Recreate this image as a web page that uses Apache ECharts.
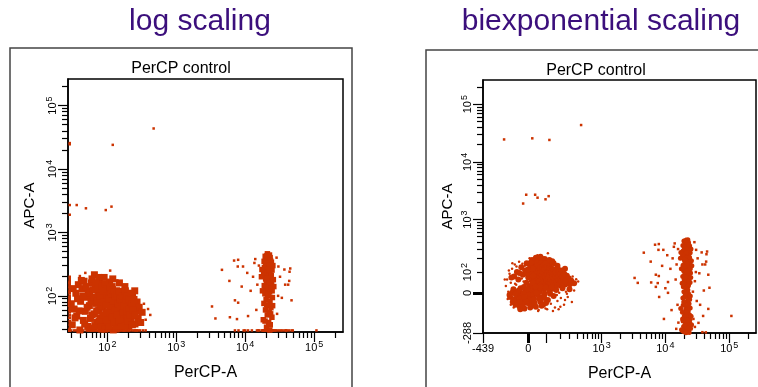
<!DOCTYPE html>
<html>
<head>
<meta charset="utf-8">
<script src="https://cdn.jsdelivr.net/npm/echarts@6/dist/echarts.min.js"></script>
<style>
  html, body { margin: 0; padding: 0; background: #fff; }
  #chart { width: 758px; height: 387px; }
</style>
</head>
<body>
<div id="chart"></div>
<script>
// events as [PerCP-A, APC-A] (same sample shown twice)
const blobEvents = [
  [31,35],[33,62],[35,110],[36,48],[38,150],[40,29],[41,82],[43,130],[45,41],[46,170],[48,57],[50,95],[52,33],[53,120],[55,70],[57,44],[59,160],[61,88],[63,31],[65,52],[67,140],[69,76],[71,38],[73,105],[75,60],[77,175],[79,45],[81,125],[83,30],[85,85],[87,66],[89,150],[91,40],[93,100],[95,55],[97,135],[99,34],[102,78],[104,115],[106,48],[108,165],[110,62],[113,92],[115,37],[118,140],[120,70],[122,29],[125,110],[128,52],[130,85],[133,42],[136,120],[139,64],[142,98],[145,35],[148,105],[151,58],[154,80],[157,45],[160,95],[164,31],[168,72],[172,110],[176,50],[180,88],[184,38],[188,65],[192,90],[196,44],[200,75],[205,33],[210,60],[215,85],[220,40],[226,68],[232,95],[238,48],[245,70],[252,36],[260,58],[270,80],[280,45],[290,66],[305,38],[320,55],[340,75],[360,42],[390,62],[420,50],
  [40,205],[65,215],[90,195],[120,185],[150,160],[48,230],[110,250],[180,140],[75,195],[250,120],[60,185],[140,175],
  [30,75],[32,130],[34,45],[37,90],[39,58],[42,175],[44,100],[47,36],[49,140],[51,66],[54,28],[56,112],[58,80],[60,50],[62,125],[64,95],[66,34],[68,160],[70,58],[72,84],[74,130],[76,40],[78,100],[80,68],[82,32],[84,145],[86,50],[88,118],[90,80],[92,30],[94,155],[96,72],[98,42],[100,128],[103,56],[105,90],[107,31],[109,135],[112,68],[114,108],[116,46],[119,125],[121,82],[124,38],[126,115],[129,60],[131,98],[134,30],[137,105],[140,50],[143,75],[146,118],[150,40],[153,90],[156,66],[159,32],[163,80],[167,100],[171,55],[175,70],[179,34],[183,120],[187,85],[191,58],[195,100],[199,40],[204,90],[209,62],[214,50],[219,110],[225,75],[231,35],[237,60],[244,88],[251,50],
  [-160,30],[-150,60],[-140,5],[-130,90],[-125,-20],[-120,45],[-110,120],[-105,-45],[-100,15],[-95,75],[-90,150],[-85,-60],[-80,35],[-75,100],[-70,-10],[-65,60],[-60,170],[-55,-70],[-50,20],[-45,130],[-40,-35],[-35,85],[-30,50],[-25,-80],[-20,110],[-15,10],[-10,160],[-5,-50],[0,70],[5,30],[8,-20],[10,140],[12,95],[15,-65],[18,55],[20,185],[22,0],[24,120],[25,-40],[26,80],
  [-145,-30],[-135,110],[-115,70],[-98,-75],[-88,40],[-78,135],[-68,-40],[-58,95],[-48,0],[-38,155],[-28,25],[-18,-90],[-8,90],[2,-5],[14,165],[23,45],[-62,10],[-42,65],[-22,140],[-2,115],[16,-35],[-170,60],[-108,160],[-52,-85],[7,200],[-12,45],[19,15],[-33,-55],
  [-120,-60],[-90,-30],[-60,-15],[-30,-5],[0,-30],[-110,0],[-75,-55],[-45,-25],[-15,-40],[10,-75],[-130,-10],[-100,-35],[-70,5],[-40,-60],[-5,15],[20,-50],[25,-10],[-55,-45],[-85,-5],[-25,-20],
  [30,-30],[35,10],[40,-70],[45,20],[50,-10],[55,-90],[60,5],[65,-45],[70,25],[75,-20],[80,-60],[85,15],[90,-5],[95,-80],[100,22],[110,-35],[120,8],[130,-55],[140,18],[150,-15],[160,-75],[170,12],[180,-40],[195,0],[210,-25],[225,20],[240,-60],[260,5],[280,-20],[300,15],[330,-45],[360,10],[33,-50],[42,0],[52,-95],[62,24],[72,-65],[88,-25],[105,-85],[125,-5],[145,-95],[175,-10],[205,-70],[250,-35],[38,26],[58,-30],[98,-50],[135,25],[190,-85],[270,-5]
];

const stripeEvents = [
  [21000,460],[22500,440],[19500,420],[23000,400],[20500,385],[21800,370],[18800,350],[24000,340],[22000,325],[20000,310],[23500,295],[19000,280],[21500,270],[24500,255],[20800,240],[22800,228],[18500,215],[21200,205],[23800,195],[19800,185],[22200,175],[20300,165],[24200,155],[18900,145],[21700,138],[23200,130],[20600,122],[22600,115],[19300,108],[21100,100],[24800,94],[20100,88],[22900,82],[18700,76],[21400,70],[23600,65],[19700,60],[22300,55],[20900,50],[24400,46],[18300,42],[21900,38],[23100,35],[20400,32],[22700,29],[19100,27],
  [20700,430],[23300,360],[19900,330],[22400,300],[21300,260],[18600,235],[23900,210],[20200,190],[22100,160],[19600,135],[24600,120],[21600,105],[20500,72],[23400,52],[19400,40],[25200,300],[17500,260],[25600,180],[17800,120],[25000,70],[17200,200],[26000,140],
  [21000,20],[22500,12],[19500,5],[23000,-3],[20500,-10],[21800,-18],[18800,-25],[24000,-32],[22000,-40],[20000,-48],[23500,-55],[19000,-63],[21500,-70],[24500,-78],[20800,-86],[22800,-95],[18500,-103],[21200,-112],[23800,-120],[19800,-129],[22200,-138],[20300,-147],[24200,-156],[18900,-166],[21700,-175],[23200,-185],[20600,-195],[22600,-205],[19300,-215],[21100,-225],[24800,-235],[20100,-245],[22900,-255],[18700,-265],[21400,-275],[23600,-283],
  [20700,-5],[23300,-30],[19900,-60],[22400,-90],[21300,-125],[18600,-150],[23900,-180],[20200,-210],[22100,-240],[19600,-270],[24600,-15],[21600,-100],[20500,-160],[23400,-230],[19400,-45],[25300,-130],[17400,-80],[25700,-200],[17900,-250],[21000,-285],[22000,-160],[20000,-20]
];

const sparseEvents = [
  [-176,24500],[21,25600],[120,24000],[470,43500],[-33,1900],[-13,2700],[36,2700],[49,2400],[95,2250],[115,2550],
  [3700,44],[4600,257],[5900,172],[7100,85],[7100,26],[7800,290],[9300,290],[11000,48],[11000,0],[13600,330],[30300,290],[43500,172],[47000,85],[49000,22],[47000,-83],[39000,-128],[33000,-182],[108000,-128],[43000,-280],[38000,-278],
  [3300,68],[6900,360],[7900,370],[6000,46],[7600,43],[8900,140],[7900,78],[10700,230],[38000,150],[45000,270],[44000,240],[34000,93],[29000,52],[37000,260],[42000,150],
  [14000,380],[15000,150],[15500,-60],[14500,60],[13000,200],[28500,400],[30000,100],[31000,-40],[29000,-220],[15800,300],[16000,-180],[32000,200],[12000,120],[27500,-150],[14800,-240],
  [8000,-20],[9500,-150],[12500,-90],[27000,5],[35000,-60],[40000,10],[10000,20]
];

// ticks
const logMajor = [100, 1000, 10000, 100000];
const logLabels = ['10^2', '10^3', '10^4', '10^5'];
const tickMultipliers = [2, 3, 4, 5, 6, 7, 8, 9];
const tickDecades = [10, 100, 1000, 10000, 100000];
const biexXMajor = [-439, 100, 1000, 10000, 100000];
const biexXLabelVals = [-439, 0, 1000, 10000, 100000];
const biexXLabels = ['-439', '0', '10^3', '10^4', '10^5'];
const biexYMajor = [-288, 1000, 10000, 100000];
const biexYLabelVals = [-288, 0, 100, 1000, 10000, 100000];
const biexYLabels = ['-288', '0', '10^2', '10^3', '10^4', '10^5'];
const topValue = 262143;

const FONT = '"Liberation Sans", Arial, sans-serif';
const DOT = '#cc3300';

const LOG_MIN = 1.43, LOG_MAX = Math.log10(topValue);
const lg = v => v > 0 ? Math.log10(v) : -Infinity;
const bx = v => Math.asinh(v / (v >= 0 ? 143 : 179));
const by = v => Math.asinh(v / (v >= 0 ? 108 : 121));

const minorRaw = [];
tickDecades.forEach(d => tickMultipliers.forEach(m => minorRaw.push(m * d)));
const logMinor = minorRaw.filter(v => lg(v) > LOG_MIN && v < topValue).map(lg);
const bxMinor = minorRaw.filter(v => v >= 200 && v < topValue).map(bx);
const byMinor = minorRaw.filter(v => v >= 200 && v < topValue).map(by);

function richLabel(s) {
  const m = /^10\^(\d)$/.exec(s);
  return m ? '{b|10}{e|' + m[1] + '}' : '{b|' + s + '}';
}
function labeler(vals, labels, f) {
  return v => {
    const i = vals.findIndex(x => Math.abs(f(x) - v) < 1e-6);
    return i < 0 ? '' : richLabel(labels[i]);
  };
}
const rich = {
  b: { fontSize: 11, fontFamily: FONT, color: '#000', lineHeight: 12, padding: [4, 0, 0, 0] },
  e: { fontSize: 9, fontFamily: FONT, color: '#000', lineHeight: 10, verticalAlign: 'top', padding: [0, 0, 0, 1] }
};

function mainAxis(dim, grid, min, max, ticks, labelVals, fmt, nameGap) {
  const isX = dim === 'x';
  return {
    type: 'value', gridIndex: grid, min, max, position: isX ? 'bottom' : 'left',
    name: isX ? 'PerCP-A' : 'APC-A', nameLocation: 'middle', nameGap,
    nameTextStyle: { fontFamily: FONT, fontSize: isX ? 16 : 15, color: '#000' },
    axisLine: { show: true, onZero: false, lineStyle: { color: '#000', width: 1.5 } },
    axisTick: { show: true, length: 10, customValues: ticks, lineStyle: { color: '#000', width: 1.2 } },
    axisLabel: { show: true, customValues: labelVals, formatter: fmt, rotate: isX ? 0 : 90, margin: isX ? 8 : 11, rich },
    splitLine: { show: false }
  };
}
function tickAxis(dim, grid, min, max, ticks, len, width) {
  return {
    type: 'value', gridIndex: grid, min, max, position: dim === 'x' ? 'bottom' : 'left',
    axisLine: { show: false, onZero: false },
    axisTick: { show: true, length: len, customValues: ticks, lineStyle: { color: '#000', width } },
    axisLabel: { show: false },
    splitLine: { show: false }
  };
}

const bxMin = bx(-439), bxMax = bx(topValue), byMin = by(-288), byMax = by(topValue);

const xAxis = [
  mainAxis('x', 0, LOG_MIN, LOG_MAX, logMajor.map(lg), logMajor.map(lg), labeler(logMajor, logLabels, lg), 33),
  tickAxis('x', 0, LOG_MIN, LOG_MAX, logMinor, 6, 1.2),
  mainAxis('x', 1, bxMin, bxMax, biexXMajor.map(bx), biexXLabelVals.map(bx), labeler(biexXLabelVals, biexXLabels, bx), 33),
  tickAxis('x', 1, bxMin, bxMax, bxMinor, 6, 1.2),
  tickAxis('x', 1, bxMin, bxMax, [bx(0)], 10, 3)
];
const yAxis = [
  mainAxis('y', 0, LOG_MIN, LOG_MAX, logMajor.map(lg), logMajor.map(lg), labeler(logMajor, logLabels, lg), 31),
  tickAxis('y', 0, LOG_MIN, LOG_MAX, logMinor, 6, 1.2),
  mainAxis('y', 1, byMin, byMax, biexYMajor.map(by), biexYLabelVals.map(by), labeler(biexYLabelVals, biexYLabels, by), 28),
  tickAxis('y', 1, byMin, byMax, byMinor.concat([by(100)]), 6, 1.2),
  tickAxis('y', 1, byMin, byMax, [by(0)], 10, 3)
];

// dot size from local density: crowded events get a bigger dot so dense cores read solid
function withDensity(pts, sx, sy, r, k, big, small) {
  return pts.map(p => {
    let n = 0;
    for (const q of pts) {
      const dx = (p[0] - q[0]) * sx, dy = (p[1] - q[1]) * sy;
      if (dx * dx + dy * dy <= r * r) n++;
    }
    return [p[0], p[1], p[2] ? small : (n > k ? big : small)];
  });
}

// log display: values at or below the axis minimum pile up on the edge
const PILE = LOG_MIN + 0.025;
function toLog(events) {
  return events.map(([x, y]) => {
    const lx = lg(x), ly = lg(y);
    return [Math.max(lx, PILE), Math.max(ly, PILE), (lx < PILE || ly < PILE) ? 1 : 0];
  });
}
function toBiex(events) {
  return events.map(([x, y]) => [bx(x), by(y), 0]);
}
function dots(data, xi, yi, symbol) {
  return {
    type: 'scatter', xAxisIndex: xi, yAxisIndex: yi, data, symbol,
    symbolSize: v => v[2], itemStyle: { color: DOT, opacity: 1 }, silent: true, clip: true
  };
}
const LX = 69, LY = 63.4, BXS = 27.8, BYS = 25.1;   // approx px per axis unit

const chart = echarts.init(document.getElementById('chart'));
chart.setOption({
  animation: false,
  backgroundColor: '#fff',
  title: [
    { text: 'log scaling', left: 200, top: 7, textAlign: 'center', padding: 0,
      textStyle: { fontSize: 30, fontWeight: 'normal', color: '#3b0f7c', fontFamily: FONT } },
    { text: 'biexponential scaling', left: 601, top: 7, textAlign: 'center', padding: 0,
      textStyle: { fontSize: 30, fontWeight: 'normal', color: '#3b0f7c', fontFamily: FONT } },
    { text: 'PerCP control', left: 181, top: 61, textAlign: 'center', padding: 0,
      textStyle: { fontSize: 16, fontWeight: 'normal', color: '#000', fontFamily: FONT } },
    { text: 'PerCP control', left: 596, top: 63, textAlign: 'center', padding: 0,
      textStyle: { fontSize: 16, fontWeight: 'normal', color: '#000', fontFamily: FONT } }
  ],
  graphic: [
    { type: 'rect', silent: true, shape: { x: 10, y: 48, width: 342, height: 400 },
      style: { fill: 'none', stroke: '#444', lineWidth: 1.5 } },
    { type: 'rect', silent: true, shape: { x: 426, y: 50, width: 400, height: 400 },
      style: { fill: 'none', stroke: '#444', lineWidth: 1.5 } }
  ],
  grid: [
    { left: 68, top: 79, width: 275, height: 253, show: true, borderColor: '#000', borderWidth: 1.5, backgroundColor: 'transparent' },
    { left: 483, top: 80, width: 273, height: 253, show: true, borderColor: '#000', borderWidth: 1.5, backgroundColor: 'transparent' }
  ],
  xAxis,
  yAxis,
  series: [
    dots(withDensity(toLog(blobEvents), LX, LY, 10, 6, 7, 2.5), 0, 0, 'rect'),
    dots(withDensity(toLog(stripeEvents), LX, LY, 10, 6, 5.5, 2.5), 0, 0, 'rect'),
    dots(toLog(sparseEvents).map(p => [p[0], p[1], 2.5]), 0, 0, 'rect'),
    dots(withDensity(toBiex(blobEvents), BXS, BYS, 8, 9, 6, 2.5), 2, 2, 'circle'),
    dots(withDensity(toBiex(stripeEvents), BXS, BYS, 8, 9, 5, 2.5), 2, 2, 'circle'),
    dots(toBiex(sparseEvents).map(p => [p[0], p[1], 2.5]), 2, 2, 'rect')
  ]
});
</script>
</body>
</html>
